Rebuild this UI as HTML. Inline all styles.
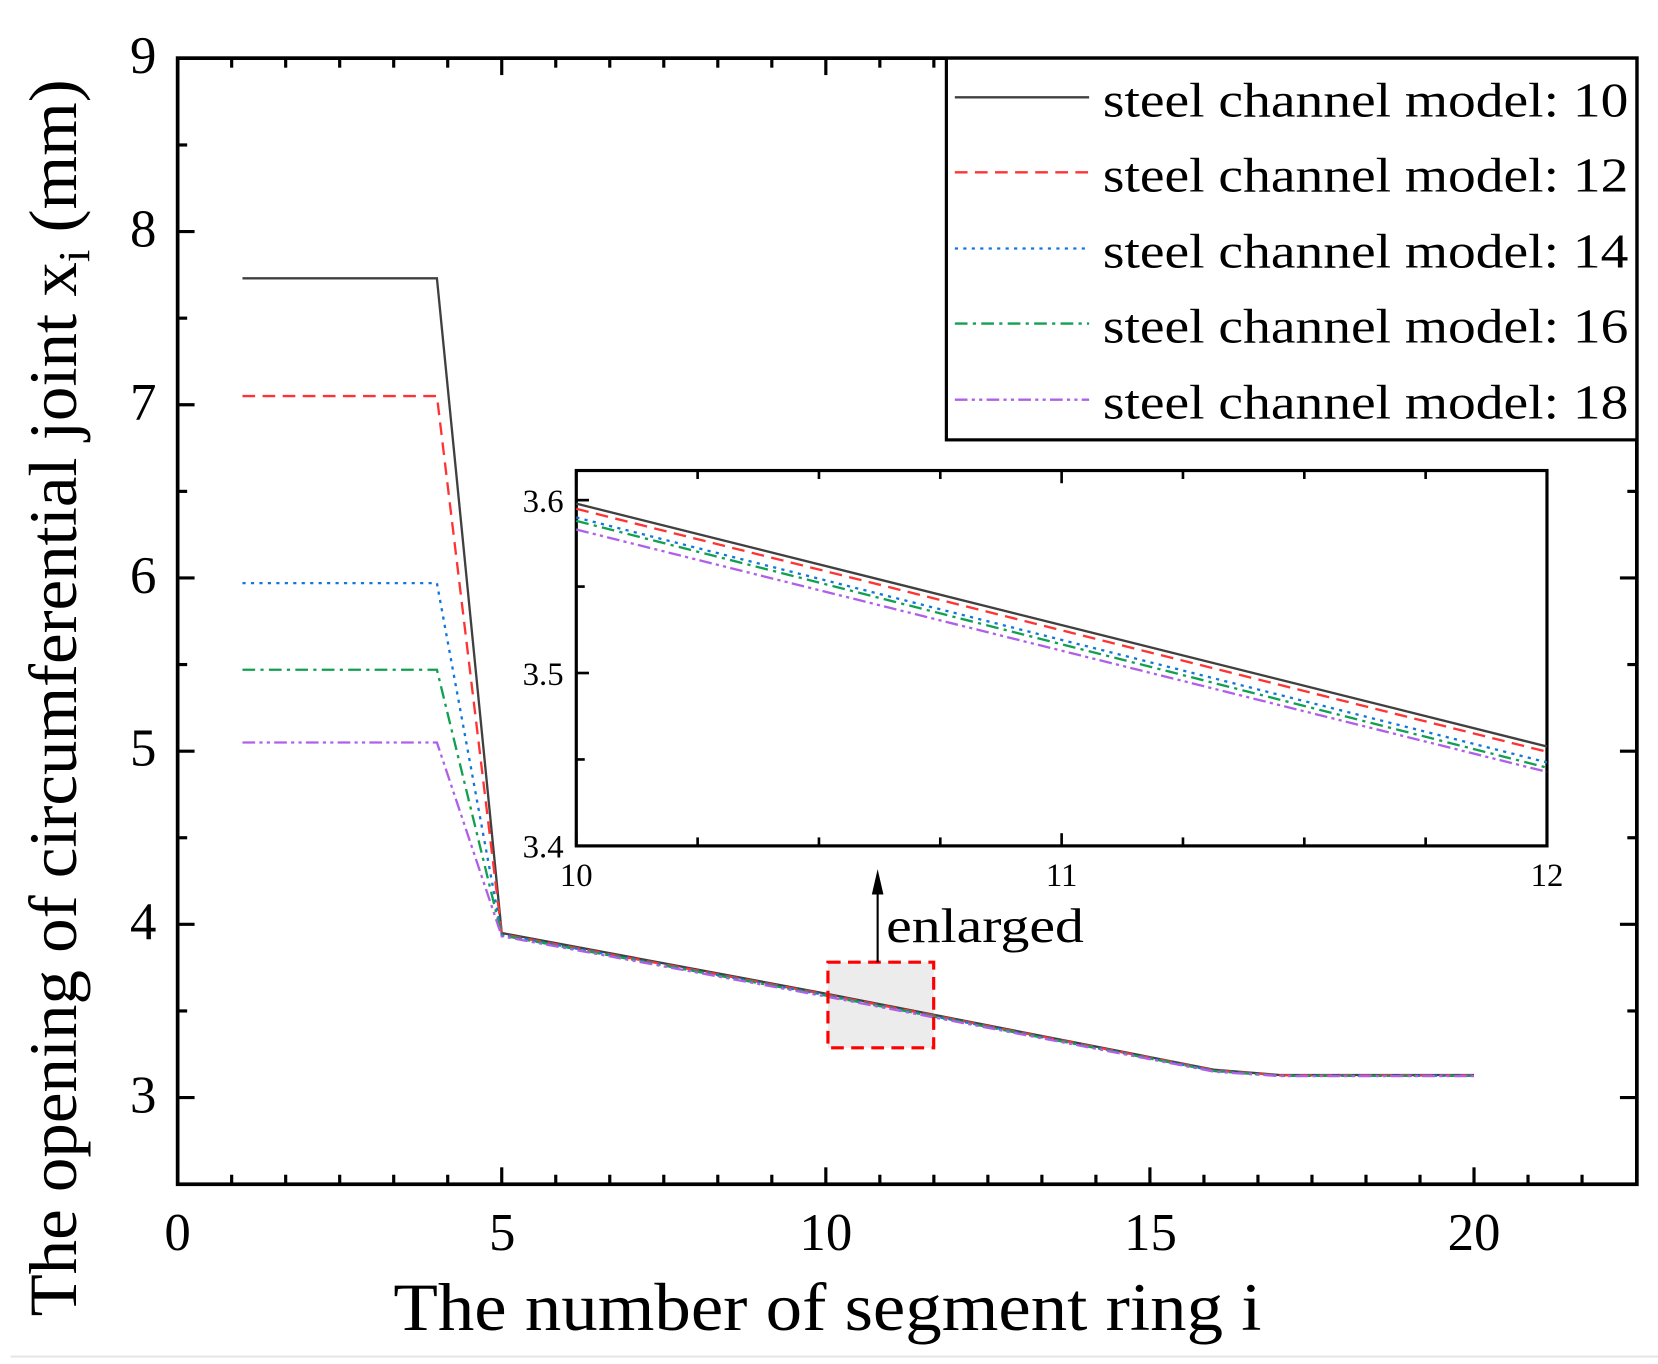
<!DOCTYPE html>
<html><head><meta charset="utf-8"><style>
html,body{margin:0;padding:0;background:#fff;}
svg{display:block;}
text{font-family:"Liberation Serif",serif;fill:#000;}
</style></head><body>
<svg id="s" width="1658" height="1364" viewBox="0 0 1568 1290" preserveAspectRatio="none" xmlns="http://www.w3.org/2000/svg">
<rect x="0" y="0" width="1568" height="1290" fill="#fff"/>
<line x1="10" y1="1283" x2="1568" y2="1283" stroke="#e6e6e6" stroke-width="2"/>
<g id="ticks" stroke="#000" stroke-width="3"></g>
<rect x="168" y="55" width="1380" height="1065" fill="none" stroke="#000" stroke-width="3.5"/>
<g font-size="50" text-anchor="middle">
<text x="168" y="1182">0</text><text x="475" y="1182">5</text><text x="781" y="1182">10</text><text x="1088" y="1182">15</text><text x="1394" y="1182">20</text>
</g>
<g font-size="50" text-anchor="end">
<text x="148" y="69">9</text><text x="148" y="233">8</text><text x="148" y="397">7</text><text x="148" y="561">6</text><text x="148" y="724">5</text><text x="148" y="888">4</text><text x="148" y="1052">3</text>
</g>
<text x="372" y="1258" font-size="64" textLength="821" lengthAdjust="spacingAndGlyphs">The number of segment ring i</text>
<text transform="translate(72,1245) rotate(-90)" font-size="64" textLength="1170" lengthAdjust="spacingAndGlyphs">The opening of circumferential joint x<tspan font-size="42" dy="12">i</tspan><tspan dy="-12"> (mm)</tspan></text>
<g fill="none" stroke-width="2.2">
<rect x="783" y="910" width="100" height="81" fill="#ececec" stroke="none"/>
<polyline stroke="#404040" points="229.3,263.2 413.2,263.2 474.5,882.4 781,939.7 1148.8,1011.8 1210.1,1016.7 1394,1016.7"/>
<polyline stroke="#ff3333" stroke-dasharray="12,7" points="229.3,374.6 413.2,374.6 474.5,883.5 781,940.5 1148.8,1012.3 1210.1,1017 1394,1017"/>
<polyline stroke="#1177dd" stroke-dasharray="3,5" points="229.3,551.5 413.2,551.5 474.5,884 781,941.2 1148.8,1012.8 1210.1,1017.3 1394,1017.3"/>
<polyline stroke="#11a050" stroke-dasharray="12,5,3,5" points="229.3,633.4 413.2,633.4 474.5,884.6 781,941.6 1148.8,1013 1210.1,1017.5 1394,1017.5"/>
<polyline stroke="#b060e8" stroke-dasharray="12,4,3,4,3,4" points="229.3,702.2 413.2,702.2 474.5,885.5 781,942.4 1148.8,1013.6 1210.1,1017.7 1394,1017.7"/>
</g>
<rect x="783" y="910" width="100" height="81" fill="none" stroke="#ff0000" stroke-width="3" stroke-dasharray="12,7"/>
<line x1="830" y1="910" x2="830" y2="840" stroke="#000" stroke-width="2"/>
<polygon points="830,822 824.5,846 835.5,846" fill="#000"/>
<text x="838" y="891" font-size="46" textLength="187" lengthAdjust="spacingAndGlyphs">enlarged</text>
<rect x="545" y="445" width="918" height="355" fill="#fff" stroke="none"/>
<g id="iticks" stroke="#000" stroke-width="2.5"></g>
<rect x="545" y="445" width="918" height="355" fill="none" stroke="#000" stroke-width="3"/>
<g fill="none" stroke-width="2.2">
<line x1="545" y1="476.3" x2="1463" y2="706" stroke="#404040"/>
<line x1="545" y1="481.2" x2="1463" y2="711" stroke="#ff3333" stroke-dasharray="12,7"/>
<line x1="545" y1="489.4" x2="1463" y2="721" stroke="#1177dd" stroke-dasharray="3,5"/>
<line x1="545" y1="492.6" x2="1463" y2="726" stroke="#11a050" stroke-dasharray="12,5,3,5"/>
<line x1="545" y1="500.8" x2="1463" y2="730" stroke="#b060e8" stroke-dasharray="12,4,3,4,3,4"/>
</g>
<g font-size="31" text-anchor="end">
<text x="533" y="484">3.6</text><text x="533" y="648">3.5</text><text x="533" y="811">3.4</text>
</g>
<g font-size="31" text-anchor="middle">
<text x="545" y="838">10</text><text x="1004" y="838">11</text><text x="1463" y="838">12</text>
</g>
<rect x="895" y="55" width="653" height="361" fill="#fff" stroke="#000" stroke-width="3"/>
<g fill="none" stroke-width="2.2">
<line x1="903" y1="92" x2="1030" y2="92" stroke="#404040"/>
<line x1="903" y1="163" x2="1030" y2="163" stroke="#ff3333" stroke-dasharray="12,7"/>
<line x1="903" y1="235" x2="1030" y2="235" stroke="#1177dd" stroke-dasharray="3,5"/>
<line x1="903" y1="306" x2="1030" y2="306" stroke="#11a050" stroke-dasharray="12,5,3,5"/>
<line x1="903" y1="378" x2="1030" y2="378" stroke="#b060e8" stroke-dasharray="12,4,3,4,3,4"/>
</g>
<g font-size="46">
<text x="1043" y="110" textLength="497" lengthAdjust="spacingAndGlyphs">steel channel model: 10</text>
<text x="1043" y="181" textLength="497" lengthAdjust="spacingAndGlyphs">steel channel model: 12</text>
<text x="1043" y="253" textLength="497" lengthAdjust="spacingAndGlyphs">steel channel model: 14</text>
<text x="1043" y="324" textLength="497" lengthAdjust="spacingAndGlyphs">steel channel model: 16</text>
<text x="1043" y="396" textLength="497" lengthAdjust="spacingAndGlyphs">steel channel model: 18</text>
</g>
</svg>
<script>
(function(){
var NS="http://www.w3.org/2000/svg";
function L(g,x1,y1,x2,y2){var l=document.createElementNS(NS,"line");l.setAttribute("x1",x1);l.setAttribute("y1",y1);l.setAttribute("x2",x2);l.setAttribute("y2",y2);g.appendChild(l);}
var g=document.getElementById("ticks");
for(var i=0;i<=27;i++){var x=168+61.3*5/6*i;if(x>1547)break;var len=(i%6==0)?16:9;
 L(g,x,1120,x,1120-len);L(g,x,55,x,55+len);}
for(var k=0;k<=13;k++){var v=2.5+k*0.5;var y=1529.4-163.8*v;if(y<55||y>1120)continue;var len=(Math.abs(v-Math.round(v))<0.01)?16:9;
 L(g,168,y,168+len,y);L(g,1548,y,1548-len,y);}
var h=document.getElementById("iticks");
for(var i=0;i<=8;i++){var x=545+114.75*i;var len=(i%4==0)?12:8;L(h,x,800,x,800-len);L(h,x,445,x,445+len);}
for(var k=0;k<=4;k++){var v=3.4+k*0.05;var y=800-1635*(v-3.4);var len=(k%2==0)?12:8;L(h,545,y,545+len,y);}
})();
</script>
</body></html>
